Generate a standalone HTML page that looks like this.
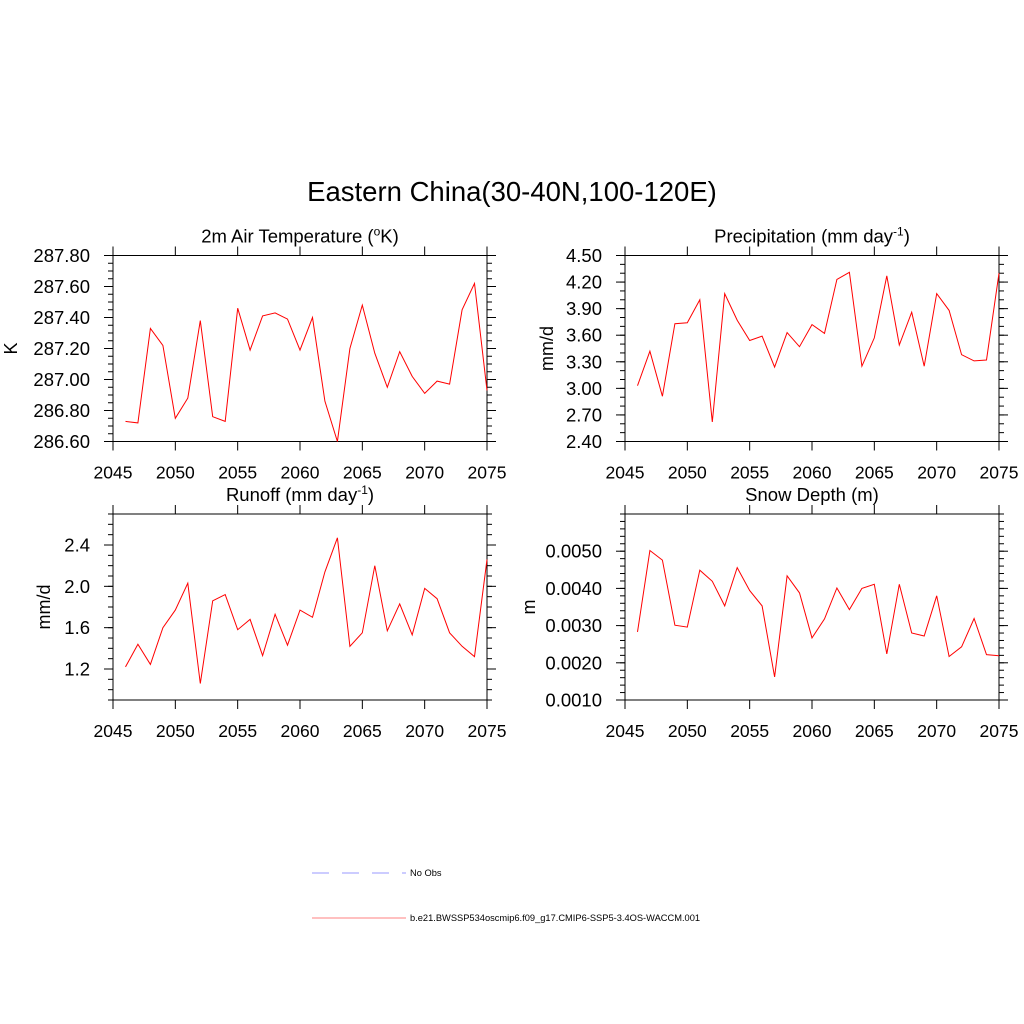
<!DOCTYPE html>
<html><head><meta charset="utf-8"><style>
body{margin:0;background:#fff;}
svg{display:block;font-family:"Liberation Sans",Arial,sans-serif;}
</style></head><body>
<svg id="chart" width="1024" height="1024" viewBox="0 0 1024 1024" xmlns="http://www.w3.org/2000/svg">
<rect width="1024" height="1024" fill="#fff"/>
<text x="512" y="201" font-size="27.5" text-anchor="middle">Eastern China(30-40N,100-120E)</text>
<g>
<line x1="312" y1="873" x2="406" y2="873" stroke="#9999ff" stroke-width="1" stroke-dasharray="17,13"/>
<text x="410" y="876" font-size="9.3">No Obs</text>
<line x1="312" y1="918" x2="406" y2="918" stroke="#ff8080" stroke-width="1"/>
<text x="410" y="921" font-size="9.3">b.e21.BWSSP534oscmip6.f09_g17.CMIP6-SSP5-3.4OS-WACCM.001</text>
</g>
</svg>
<script>
const years = [];
for (let y = 2046; y <= 2075; y++) years.push(y);
const tempValues = [286.73,286.72,287.33,287.22,286.75,286.88,287.38,286.76,286.73,287.46,287.19,287.41,287.43,287.39,287.19,287.40,286.86,286.60,287.20,287.48,287.17,286.95,287.18,287.02,286.91,286.99,286.97,287.45,287.62,286.93];
const precValues = [3.03,3.42,2.91,3.73,3.74,4.00,2.62,4.07,3.77,3.54,3.59,3.24,3.63,3.47,3.72,3.62,4.23,4.31,3.25,3.57,4.27,3.49,3.86,3.25,4.07,3.88,3.38,3.31,3.32,4.30];
const runoffValues = [1.22,1.44,1.245,1.60,1.77,2.03,1.06,1.86,1.92,1.58,1.68,1.33,1.73,1.43,1.77,1.70,2.14,2.47,1.42,1.55,2.20,1.57,1.83,1.53,1.98,1.88,1.55,1.42,1.32,2.26];
const snowValues = [0.00283,0.00502,0.00476,0.00301,0.00296,0.00449,0.00419,0.00353,0.00456,0.00394,0.00353,0.00162,0.00434,0.00388,0.00267,0.00318,0.00401,0.00343,0.00400,0.00411,0.00224,0.00411,0.00280,0.00272,0.00380,0.00217,0.00243,0.00319,0.00222,0.00219];
const xTickLabels = ["2045","2050","2055","2060","2065","2070","2075"];
const tempTicks = ["286.60","286.80","287.00","287.20","287.40","287.60","287.80"];
const precTicks = ["2.40","2.70","3.00","3.30","3.60","3.90","4.20","4.50"];
const runoffTicks = ["1.2","1.6","2.0","2.4"];
const snowTicks = ["0.0010","0.0020","0.0030","0.0040","0.0050"];

const NS = "http://www.w3.org/2000/svg";
const svg = document.getElementById('chart');
function mk(tag, attrs, parent) {
  const e = document.createElementNS(NS, tag);
  for (const k in attrs) e.setAttribute(k, attrs[k]);
  (parent || svg).appendChild(e);
  return e;
}
function panel(o) {
  const g = mk('g', {});
  
  
  const L = o.x0, R = o.x1, T = o.y0, B = o.y1;
  const xs = v => L + (v - 2045) / 30 * (R - L);
  const ys = v => B - (v - o.ymin) / (o.ymax - o.ymin) * (B - T);
  const fr = mk('rect', {x: L, y: T, width: R - L, height: B - T, fill: 'none', stroke: '#000', 'stroke-width': 1}, g);
  
  
  for (let i = 0; i < xTickLabels.length; i++) {
    const v = +xTickLabels[i], x = xs(v);
    mk('line', {x1: x, y1: B, x2: x, y2: B + 9, stroke: '#000'}, g);
    mk('line', {x1: x, y1: T, x2: x, y2: T - 9, stroke: '#000'}, g);
    const t = mk('text', {x: x, y: B + 37, 'font-size': 17.5, 'text-anchor': 'middle'}, g);
    
    
    t.textContent = xTickLabels[i];
  }
  for (let v = o.ymin; v <= o.ymax + 1e-9; v += o.minor) {
    const y = ys(v);
    mk('line', {x1: L, y1: y, x2: L - 5, y2: y, stroke: '#000'}, g);
    mk('line', {x1: R, y1: y, x2: R + 5, y2: y, stroke: '#000'}, g);
  }
  for (let i = 0; i < o.ticks.length; i++) {
    const y = ys(+o.ticks[i]);
    mk('line', {x1: L, y1: y, x2: L - 9, y2: y, stroke: '#000'}, g);
    mk('line', {x1: R, y1: y, x2: R + 9, y2: y, stroke: '#000'}, g);
    const t = mk('text', {x: L - 23, y: y + 6.5, 'font-size': 18.5, 'text-anchor': 'end'}, g);
    
    
    t.textContent = o.ticks[i];
  }
  const st = mk('text', {x: (L + R) / 2, y: T - 13, 'font-size': 18.5, 'text-anchor': 'middle'}, g);
  
  
  st.innerHTML = o.title;
  const yt = mk('text', {x: o.ytx, y: (T + B) / 2, 'font-size': 18, 'text-anchor': 'middle', transform: 'rotate(-90 ' + o.ytx + ' ' + (T + B) / 2 + ')'}, g);
  
  
  yt.textContent = o.ytitle;
  const pts = years.map((yr, i) => xs(yr).toFixed(1) + ',' + ys(o.vals[i]).toFixed(1)).join(' ');
  const pl = mk('polyline', {points: pts, fill: 'none', stroke: '#ff0000', 'stroke-width': 1}, g);
  
  
}
panel({name: 'temperature-panel', x0: 113, x1: 487, y0: 255.5, y1: 441.5, ymin: 286.6, ymax: 287.8, minor: 0.05, ticks: tempTicks, vals: tempValues, title: '2m Air Temperature (<tspan baseline-shift="super" font-size="12">o</tspan>K)', ytitle: 'K', ytx: 17});
panel({name: 'precipitation-panel', x0: 625, x1: 999, y0: 255.5, y1: 441.5, ymin: 2.4, ymax: 4.5, minor: 0.1, ticks: precTicks, vals: precValues, title: 'Precipitation (mm day<tspan baseline-shift="super" font-size="12">-1</tspan>)', ytitle: 'mm/d', ytx: 553});
panel({name: 'runoff-panel', x0: 113, x1: 487, y0: 514, y1: 700, ymin: 0.9, ymax: 2.7, minor: 0.1, ticks: runoffTicks, vals: runoffValues, title: 'Runoff (mm day<tspan baseline-shift="super" font-size="12">-1</tspan>)', ytitle: 'mm/d', ytx: 50});
panel({name: 'snow-depth-panel', x0: 625, x1: 999, y0: 514, y1: 700, ymin: 0.001, ymax: 0.006, minor: 0.0002, ticks: snowTicks, vals: snowValues, title: 'Snow Depth (m)', ytitle: 'm', ytx: 535});
</script>
</body></html>
